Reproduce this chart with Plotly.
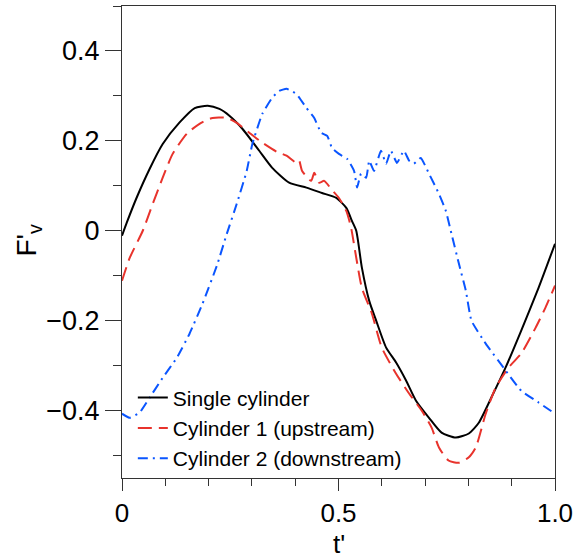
import plotly.graph_objects as go

# Single cylinder
t_single = [0, 0.011, 0.034, 0.064, 0.094, 0.133, 0.168, 0.198, 0.225, 0.248, 0.278, 0.317,
            0.347, 0.386, 0.426, 0.462, 0.495, 0.518, 0.531, 0.541, 0.554, 0.571, 0.587, 0.610,
            0.633, 0.656, 0.679, 0.709, 0.738, 0.771, 0.801, 0.824, 0.853, 0.886, 0.922, 0.962, 1.0]
f_single = [-0.011, 0.018, 0.074, 0.138, 0.193, 0.241, 0.273, 0.278, 0.271, 0.256, 0.227, 0.178,
            0.140, 0.107, 0.096, 0.084, 0.073, 0.051, 0.022, 0.000, -0.082, -0.156, -0.200, -0.260,
            -0.293, -0.333, -0.378, -0.416, -0.449, -0.460, -0.451, -0.427, -0.371, -0.304, -0.222, -0.127, -0.029]

# Cylinder 1 (upstream)
t_up = [0, 0.018, 0.048, 0.071, 0.094, 0.117, 0.150, 0.179, 0.209, 0.242, 0.265, 0.294, 0.324,
        0.357, 0.380, 0.403, 0.409, 0.416, 0.437, 0.444, 0.455, 0.467, 0.483, 0.501, 0.518, 0.529,
        0.541, 0.554, 0.577, 0.600, 0.633, 0.663, 0.692, 0.715, 0.732, 0.754, 0.778, 0.801, 0.817,
        0.840, 0.863, 0.893, 0.922, 0.955, 0.978, 1.0]
f_up = [-0.111, -0.060, 0.000, 0.060, 0.118, 0.171, 0.216, 0.238, 0.251, 0.251, 0.240, 0.218, 0.196,
        0.176, 0.167, 0.151, 0.156, 0.133, 0.111, 0.129, 0.107, 0.111, 0.093, 0.073, 0.044, 0.007,
        -0.060, -0.127, -0.184, -0.260, -0.318, -0.362, -0.400, -0.438, -0.482, -0.511, -0.516, -0.504, -0.482,
        -0.407, -0.349, -0.304, -0.273, -0.216, -0.171, -0.122]

# Cylinder 2 (downstream)
t_down = [0, 0.018, 0.041, 0.064, 0.094, 0.127, 0.156, 0.186, 0.219, 0.242, 0.265, 0.288, 0.301,
          0.324, 0.347, 0.363, 0.380, 0.403, 0.426, 0.444, 0.460, 0.474, 0.485, 0.501, 0.520, 0.536,
          0.543, 0.552, 0.564, 0.571, 0.582, 0.598, 0.610, 0.621, 0.635, 0.651, 0.663, 0.674, 0.690,
          0.709, 0.732, 0.748, 0.761, 0.778, 0.794, 0.807, 0.840, 0.886, 0.922, 0.962, 1.0]
f_down = [-0.407, -0.416, -0.404, -0.371, -0.327, -0.282, -0.229, -0.162, -0.078, -0.007, 0.060, 0.133, 0.193,
          0.260, 0.296, 0.311, 0.316, 0.304, 0.273, 0.251, 0.218, 0.211, 0.184, 0.171, 0.160, 0.133,
          0.096, 0.127, 0.118, 0.156, 0.133, 0.178, 0.149, 0.178, 0.151, 0.178, 0.156, 0.149, 0.162,
          0.127, 0.082, 0.044, -0.007, -0.073, -0.133, -0.200, -0.251, -0.311, -0.356, -0.382, -0.407]

names = ["Single cylinder", "Cylinder 1 (upstream)", "Cylinder 2 (downstream)"]

x_tickvals = [0, 0.5, 1.0]
x_ticktext = ["0", "0.5", "1.0"]
y_tickvals = [-0.4, -0.2, 0, 0.2, 0.4]
y_ticktext = ["\u22120.4", "\u22120.2", "0", "0.2", "0.4"]

FONT = "Liberation Sans, Arial, Helvetica, sans-serif"

fig = go.Figure()
fig.add_trace(go.Scatter(x=t_single, y=f_single, mode="lines", name=names[0],
                         line=dict(color="black", width=2, dash="solid", shape="spline", smoothing=0.6)))
fig.add_trace(go.Scatter(x=t_up, y=f_up, mode="lines", name=names[1],
                         line=dict(color="#e8332c", width=2, dash="14px,7px", shape="spline", smoothing=0.6)))
fig.add_trace(go.Scatter(x=t_down, y=f_down, mode="lines", name=names[2],
                         line=dict(color="#0a55ff", width=2, dash="10px,5px,2px,5px", shape="spline", smoothing=0.4)))

fig.update_layout(
    width=578, height=559,
    margin=dict(l=122, r=21, t=5, b=81),
    paper_bgcolor="white", plot_bgcolor="white",
    font=dict(family=FONT, color="black", size=26),
    showlegend=True,
    legend=dict(x=0.025, y=0.213, xanchor="left", yanchor="top",
                bgcolor="rgba(0,0,0,0)", font=dict(size=21, family=FONT),
                tracegroupgap=0),
    annotations=[
        dict(text="F'<sub>v</sub>", xref="paper", yref="paper", x=-0.215, y=0.503,
             textangle=-90, showarrow=False, font=dict(size=28, family=FONT),
             xanchor="center", yanchor="middle"),
        dict(text="t'", xref="paper", yref="paper", x=0.5, y=-0.14,
             showarrow=False, font=dict(size=26, family=FONT),
             xanchor="center", yanchor="middle"),
    ],
)

fig.update_xaxes(range=[0, 1], tickvals=x_tickvals, ticktext=x_ticktext,
                 ticks="outside", ticklen=12, tickwidth=1, tickcolor="#333",
                 showline=True, linecolor="#333", linewidth=1.2, mirror=True,
                 showgrid=False, zeroline=False,
                 minor=dict(dtick=0.1, ticks="outside", ticklen=7, tickcolor="#333", showgrid=False),
                 tickfont=dict(size=26, family=FONT))
fig.update_yaxes(range=[-0.55, 0.5], tickvals=y_tickvals, ticktext=y_ticktext,
                 ticks="outside", ticklen=16, tickwidth=1, tickcolor="#333",
                 showline=True, linecolor="#333", linewidth=1.2, mirror=True,
                 showgrid=False, zeroline=False,
                 minor=dict(dtick=0.1, ticks="outside", ticklen=8, tickcolor="#333", showgrid=False),
                 tickfont=dict(size=27, family=FONT))

fig.write_html("out.html")
